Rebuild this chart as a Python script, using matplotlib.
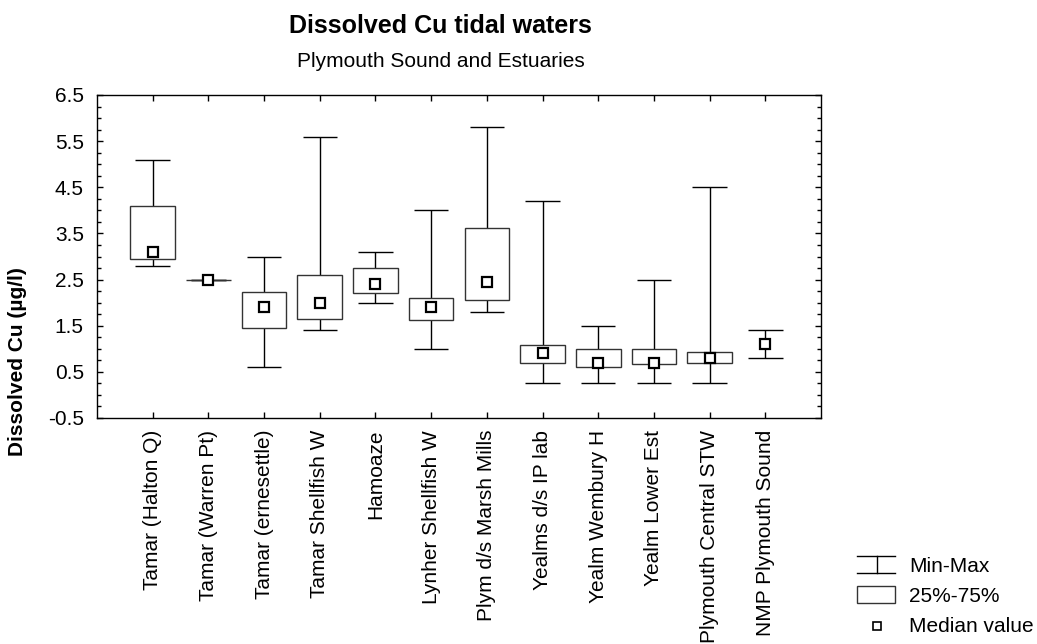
import numpy as np
import matplotlib
matplotlib.use('Agg')
import matplotlib.pyplot as plt
from matplotlib.ticker import MultipleLocator

plt.rcParams['font.family'] = ['Liberation Sans', 'DejaVu Sans']
plt.rcParams['axes.unicode_minus'] = False

sites = ['Tamar (Halton Q)', 'Tamar (Warren Pt)', 'Tamar (ernesettle)', 'Tamar Shellfish W',
         'Hamoaze', 'Lynher Shellfish W', 'Plym d/s Marsh Mills', 'Yealms d/s IP lab',
         'Yealm Wembury H', 'Yealm Lower Est', 'Plymouth Central STW', 'NMP Plymouth Sound']
cu_min = [2.8, 2.5, 0.6, 1.4, 2.0, 1.0, 1.8, 0.25, 0.25, 0.25, 0.25, 0.8]
cu_max = [5.1, 2.5, 3.0, 5.6, 3.1, 4.0, 5.8, 4.2, 1.5, 2.5, 4.5, 1.4]
cu_q1 = [2.95, 2.5, 1.46, 1.64, 2.2, 1.62, 2.06, 0.69, 0.6, 0.67, 0.7, np.nan]
cu_q3 = [4.1, 2.5, 2.24, 2.6, 2.74, 2.09, 3.62, 1.09, 1.0, 1.0, 0.92, np.nan]
cu_med = [3.1, 2.5, 1.9, 2.0, 2.4, 1.9, 2.44, 0.9, 0.7, 0.7, 0.8, 1.1]

x = np.arange(1, len(sites) + 1)
cu_q1 = np.array(cu_q1)
cu_q3 = np.array(cu_q3)
has_box = ~np.isnan(cu_q1)

W, H = 1037, 644
fig = plt.figure(figsize=(W / 100, H / 100), dpi=100)
ax = fig.add_axes([97 / W, 1 - 418 / H, (821 - 97) / W, (418 - 95) / H])

# whiskers and caps
ax.vlines(x, cu_min, cu_max, color='black', lw=1, zorder=1)
ax.hlines(cu_min, x - 0.31, x + 0.31, color='black', lw=1, zorder=1)
ax.hlines(cu_max, x - 0.31, x + 0.31, color='black', lw=1, zorder=1)

# 25%-75% boxes
ax.bar(x[has_box], cu_q3[has_box] - cu_q1[has_box], bottom=cu_q1[has_box], width=0.8,
       facecolor='white', edgecolor='#333333', lw=1, zorder=2)

# medians
ax.plot(x, cu_med, 's', ms=7, mfc='white', mec='black', mew=1.6, zorder=3)

ax.set_xlim(0, 13)
ax.set_ylim(-0.5, 6.5)
ax.set_xticks(x)
ax.set_xticklabels(sites, rotation=90, fontsize=15)
ax.set_yticks(np.arange(-0.5, 6.6, 1.0))
ax.yaxis.set_minor_locator(MultipleLocator(0.25))
ax.tick_params(axis='y', labelsize=15, pad=9.5)
ax.tick_params(axis='x', pad=8.5)
ax.tick_params(which='both', direction='in', top=True, right=True, color='black')
ax.tick_params(which='major', length=4, width=1)
ax.tick_params(which='minor', length=3, width=1)
ax.tick_params(axis='x', which='minor', bottom=False, top=False)
for s in ax.spines.values():
    s.set_linewidth(1)

fig.text(18 / W, 1 - 362 / H, 'Dissolved Cu (µg/l)', rotation=90, ha='center', va='center',
         fontsize=15, fontweight='bold')
fig.text(440 / W, 1 - 33 / H, 'Dissolved Cu tidal waters', ha='center', va='baseline',
         fontsize=18, fontweight='bold')
fig.text(441 / W, 1 - 67 / H, 'Plymouth Sound and Estuaries', ha='center', va='baseline',
         fontsize=15)

# legend (pixel offsets from the box's top-left corner)
lg = fig.add_axes([840 / W, 0, 197 / W, 124 / H])
lg.set_xlim(0, 197)
lg.set_ylim(124, 0)
lg.axis('off')
lg.plot([17, 55], [36, 36], color='black', lw=1)
lg.plot([17, 55], [53, 53], color='black', lw=1)
lg.plot([37, 37], [36, 53], color='black', lw=1)
lg.add_patch(plt.Rectangle((17, 66), 38, 17, fill=False, ec='#333333', lw=1))
lg.plot([37], [106], 's', ms=6, mfc='white', mec='black', mew=1.2)
lg.text(69, 47, 'Min-Max', va='center', fontsize=15)
lg.text(69, 77, '25%-75%', va='center', fontsize=15)
lg.text(69, 107, 'Median value', va='center', fontsize=15)

fig.savefig('out.png', dpi=100)
